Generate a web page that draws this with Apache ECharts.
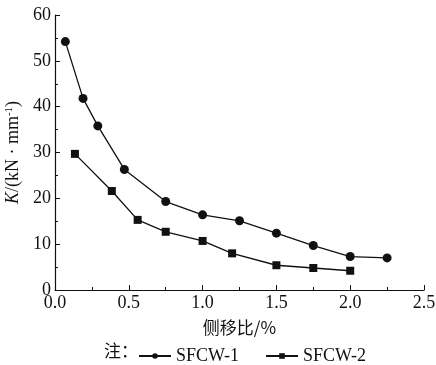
<!DOCTYPE html>
<html>
<head>
<meta charset="utf-8">
<script src="https://cdn.jsdelivr.net/npm/echarts@6/dist/echarts.min.js"></script>
<style>html,body{margin:0;padding:0;background:#fff}#c{width:436px;height:365px}</style>
</head>
<body>
<div id="c"></div>
<script>
const seriesNames = ['SFCW-1', 'SFCW-2'];
const x1 = [0.07, 0.19, 0.29, 0.47, 0.75, 1.0, 1.25, 1.5, 1.75, 2.0, 2.25];
const y1 = [54.2, 41.8, 35.8, 26.3, 19.3, 16.4, 15.1, 12.4, 9.7, 7.3, 7.0];
const x2 = [0.135, 0.385, 0.56, 0.75, 1.0, 1.2, 1.5, 1.75, 2.0];
const y2 = [29.7, 21.6, 15.3, 12.7, 10.7, 8.0, 5.4, 4.8, 4.2];
const xTicks = [0, 0.5, 1.0, 1.5, 2.0, 2.5];
const yTicks = [0, 10, 20, 30, 40, 50, 60];

const font = '"Liberation Serif", "Times New Roman", serif';
const chart = echarts.init(document.getElementById('c'));
const pair = (xs, ys) => xs.map((v, i) => [v, ys[i]]);
chart.setOption({
  animation: false,
  backgroundColor: '#fff',
  textStyle: { fontFamily: font, color: '#111' },
  grid: { left: 55, right: 12, top: 15, bottom: 75, containLabel: false, outerBoundsMode: 'none' },
  graphic: [{
    type: 'text', left: 104, top: 342,
    style: { text: '注：', font: '17px "Noto Sans CJK SC", serif', fill: '#111' }
  }],
  legend: {
    left: 133, top: 342, itemWidth: 32, itemHeight: 7, itemGap: 26,
    textStyle: { fontFamily: font, fontSize: 18, color: '#111' },
    data: seriesNames
  },
  xAxis: {
    type: 'value', min: xTicks[0], max: xTicks[xTicks.length - 1], interval: 0.5,
    name: '侧移比/%', nameLocation: 'middle', nameGap: 29,
    nameTextStyle: { fontFamily: '"Noto Sans CJK SC", serif', fontSize: 17, color: '#111' },
    axisLine: { lineStyle: { color: '#111', width: 1.2 } },
    axisTick: { inside: true, length: 5, lineStyle: { color: '#111' } },
    minorTick: { show: true, splitNumber: 2, length: 3, lineStyle: { color: '#111' } },
    splitLine: { show: false },
    axisLabel: { fontFamily: font, fontSize: 18, color: '#111', margin: 4, formatter: v => v.toFixed(1) }
  },
  yAxis: {
    type: 'value', min: yTicks[0], max: yTicks[yTicks.length - 1], interval: 10,
    name: '{i|K}/(kN · mm{s|-1})', nameLocation: 'middle', nameGap: 32,
    nameTextStyle: {
      fontFamily: font, fontSize: 18, color: '#111',
      rich: {
        i: { fontFamily: font, fontSize: 18, fontStyle: 'italic', color: '#111' },
        s: { fontFamily: font, fontSize: 11, color: '#111', verticalAlign: 'top', lineHeight: 18 }
      }
    },
    axisLine: { show: true, lineStyle: { color: '#111', width: 1.2 } },
    axisTick: { show: true, inside: true, length: 5, lineStyle: { color: '#111' } },
    minorTick: { show: true, splitNumber: 2, length: 3, lineStyle: { color: '#111' } },
    splitLine: { show: false },
    axisLabel: { fontFamily: font, fontSize: 18, color: '#111', margin: 4 }
  },
  series: [
    {
      name: seriesNames[0], type: 'line', data: pair(x1, y1),
      symbol: 'circle', symbolSize: 9,
      lineStyle: { color: '#111', width: 1.3 }, itemStyle: { color: '#111' }
    },
    {
      name: seriesNames[1], type: 'line', data: pair(x2, y2),
      symbol: 'rect', symbolSize: 8,
      lineStyle: { color: '#111', width: 1.3 }, itemStyle: { color: '#111' }
    }
  ]
});
</script>
</body>
</html>
